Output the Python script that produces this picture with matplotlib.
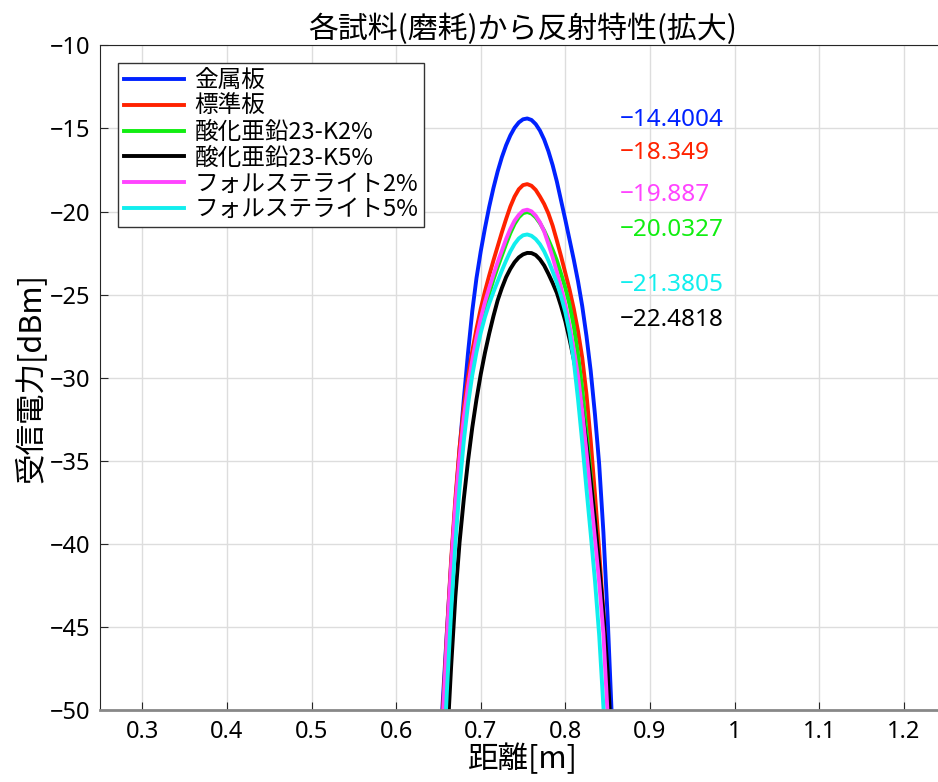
import matplotlib
matplotlib.use("Agg")
import matplotlib.pyplot as plt

plt.rcParams['font.family'] = ['Noto Sans CJK JP', 'DejaVu Sans']
plt.rcParams['axes.unicode_minus'] = False

# 距離[m]
dist = [0.650, 0.655, 0.660, 0.665, 0.670, 0.675, 0.680, 0.685, 0.690, 0.695,
        0.700, 0.705, 0.710, 0.715, 0.720, 0.725, 0.730, 0.735, 0.740, 0.745,
        0.750, 0.755, 0.760, 0.765, 0.770, 0.775, 0.780, 0.785, 0.790, 0.795,
        0.800, 0.805, 0.810, 0.815, 0.820, 0.825, 0.830, 0.835, 0.840, 0.845,
        0.850, 0.855, 0.860]

# 受信電力[dBm]
metal = [-53.9, -49.6, -45.3, -41.2, -37.6, -34.3, -31.3, -28.5, -26.0, -24.0,
         -22.4, -21.0, -19.72, -18.59, -17.59, -16.73, -16.01, -15.42, -14.96, -14.64,
         -14.45, -14.40, -14.49, -14.74, -15.13, -15.67, -16.37, -17.21, -18.20, -19.35,
         -20.5, -21.7, -22.9, -24.2, -25.7, -27.5, -29.6, -32.2, -35.2, -39.3,
         -44.4, -50.5, -57.0]
standard = [-55.5, -50.3, -45.4, -41.0, -37.3, -34.2, -31.8, -29.95, -28.4, -27.05,
            -25.85, -24.8, -23.85, -22.95, -22.1, -21.25, -20.45, -19.7, -19.1, -18.66,
            -18.41, -18.35, -18.45, -18.7, -19.1, -19.55, -20.12, -20.85, -21.75, -22.7,
            -23.7, -24.7, -25.85, -27.2, -28.8, -31.0, -33.8, -37.0, -40.4, -44.2,
            -48.9, -54.3, -60.0]
zno_k2 = [-56.5, -51.2, -46.2, -41.8, -38.1, -35.2, -32.8, -30.9, -29.35, -28.0,
          -26.85, -25.85, -24.95, -24.1, -23.35, -22.65, -21.95, -21.3, -20.75, -20.35,
          -20.1, -20.03, -20.12, -20.35, -20.7, -21.15, -21.7, -22.3, -22.95, -23.75,
          -24.6, -25.6, -26.9, -28.6, -30.7, -33.2, -35.9, -38.6, -41.6, -44.7,
          -49.3, -55.0, -61.0]
zno_k5 = [-62.5, -57.3, -52.2, -47.4, -43.2, -39.9, -37.3, -35.0, -33.0, -31.3,
          -29.8, -28.5, -27.35, -26.3, -25.35, -24.6, -23.95, -23.45, -23.05, -22.76,
          -22.58, -22.49, -22.5, -22.62, -22.88, -23.25, -23.75, -24.3, -24.9, -25.7,
          -26.6, -27.7, -28.9, -30.3, -32.0, -34.0, -36.2, -38.6, -41.3, -44.2,
          -47.7, -52.4, -58.0]
fors_2 = [-56.0, -50.8, -45.8, -41.4, -37.7, -34.8, -32.4, -30.5, -28.95, -27.6,
          -26.45, -25.45, -24.6, -23.8, -23.05, -22.35, -21.65, -21.05, -20.55, -20.2,
          -19.95, -19.89, -19.99, -20.25, -20.65, -21.2, -21.95, -22.75, -23.65, -24.6,
          -25.6, -26.9, -28.3, -29.9, -32.0, -34.5, -37.1, -39.7, -42.3, -45.4,
          -50.3, -56.0, -62.0]
fors_5 = [-59.4, -54.1, -48.9, -44.1, -40.0, -36.6, -33.8, -31.6, -29.85, -28.45,
          -27.3, -26.35, -25.55, -24.85, -24.2, -23.55, -22.95, -22.4, -21.95, -21.62,
          -21.43, -21.38, -21.46, -21.66, -21.97, -22.4, -22.95, -23.6, -24.3, -25.1,
          -26.05, -27.3, -29.0, -31.3, -33.9, -36.7, -39.4, -42.2, -45.5, -49.8,
          -55.0, -61.0, -67.0]

labels = ['金属板', '標準板', '酸化亜鉛23-K2%', '酸化亜鉛23-K5%',
          'フォルステライト2%', 'フォルステライト5%']
colors = ['#0022ff', '#ff2200', '#11ee11', '#000000', '#ff44ff', '#11eeee']
series = [metal, standard, zno_k2, zno_k5, fors_2, fors_5]

# ピーク値の表示
peak_text = ['\u221214.4004', '\u221218.349', '\u221219.887', '\u221220.0327',
             '\u221221.3805', '\u221222.4818']
peak_color = ['#0022ff', '#ff2200', '#ff44ff', '#11ee11', '#11eeee', '#000000']
peak_y = [-14.5, -16.5, -19.0, -21.1, -24.4, -26.5]

fig = plt.figure(figsize=(9.38, 7.82), dpi=100)
ax = fig.add_axes([0.1066, 0.092, 0.902, 0.850])

for y, c, lab in zip(series, colors, labels):
    ax.plot(dist, y, color=c, lw=2.8, label=lab)

for t, c, yy in zip(peak_text, peak_color, peak_y):
    ax.text(0.864, yy, t, color=c, fontsize=17.5, va='center', ha='left',
            family=['Noto Sans', 'DejaVu Sans'])

ax.set_xlim(0.25, 1.25)
ax.set_ylim(-50, -10)
ax.set_xticks([0.3, 0.4, 0.5, 0.6, 0.7, 0.8, 0.9, 1.0, 1.1, 1.2])
ax.set_xticklabels(['0.3', '0.4', '0.5', '0.6', '0.7', '0.8', '0.9', '1', '1.1', '1.2'])
ax.set_yticks([-50, -45, -40, -35, -30, -25, -20, -15, -10])
ax.set_yticklabels(['\u221250', '\u221245', '\u221240', '\u221235', '\u221230',
                    '\u221225', '\u221220', '\u221215', '\u221210'])
ax.tick_params(direction='in', labelsize=17, length=6, color='#262626', pad=7)
for lab in ax.get_xticklabels() + ax.get_yticklabels():
    lab.set_family(['Noto Sans', 'DejaVu Sans'])
ax.grid(True, color='#dddddd', lw=1)
ax.set_axisbelow(True)
for s in ax.spines.values():
    s.set_color('#262626')
ax.spines['bottom'].set_color('#888888')
ax.spines['bottom'].set_linewidth(2)

ax.set_title('各試料(磨耗)から反射特性(拡大)', fontsize=21.5, pad=3)
ax.set_xlabel('距離[m]', fontsize=22, labelpad=0)
ax.set_ylabel('受信電力[dBm]', fontsize=22, labelpad=2)

leg = ax.legend(loc='upper left', bbox_to_anchor=(0.021, 0.973), borderaxespad=0,
                fontsize=17, frameon=True, fancybox=False, edgecolor='#333333',
                framealpha=1, handlelength=2.55, labelspacing=0.12, borderpad=0.25,
                handletextpad=0.45)
leg.get_frame().set_linewidth(1)

plt.savefig("out.png", dpi=100)
